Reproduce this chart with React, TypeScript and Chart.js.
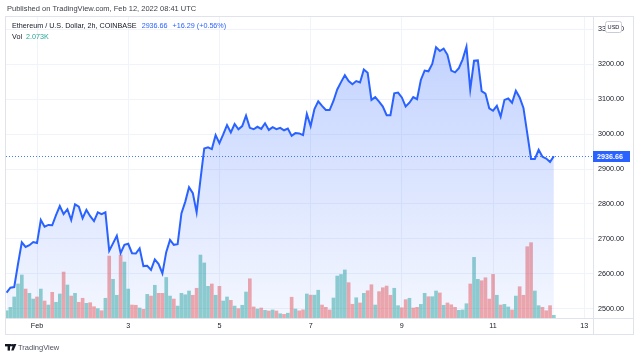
import React, { useEffect, useRef } from "react";
import { Chart, registerables } from "chart.js";

Chart.register(...registerables);

// ETH/USD 2h closes, Jan 31 08:00 UTC -> Feb 12 08:00 UTC (index = 2h bar)
const prices = [
  2546, 2560, 2562, 2628, 2690, 2677, 2682, 2691, 2688, 2754,
  2735, 2740, 2739, 2768, 2794, 2771, 2785, 2754, 2799, 2792,
  2759, 2783, 2765, 2751, 2776, 2771, 2776, 2666, 2687, 2709,
  2659, 2683, 2686, 2659, 2658, 2673, 2622, 2623, 2611, 2641,
  2628, 2601, 2662, 2697, 2683, 2685, 2773, 2806, 2848, 2831,
  2776, 2869, 2959, 2962, 2957, 2997, 2974, 2999, 3026, 3005,
  3029, 3014, 3023, 3053, 3018, 3014, 3021, 3015, 3031, 3012,
  3020, 3014, 3018, 3011, 3016, 2995, 3003, 3002, 2997, 3058,
  3023, 3072, 3094, 3081, 3069, 3069, 3095, 3128, 3149, 3169,
  3152, 3143, 3152, 3148, 3185, 3176, 3098, 3106, 3093, 3079,
  3054, 3054, 3117, 3119, 3105, 3079, 3090, 3106, 3100, 3155,
  3182, 3180, 3201, 3249, 3238, 3245, 3227, 3182, 3177, 3189,
  3214, 3250, 3128, 3210, 3211, 3123, 3116, 3074, 3067, 3081,
  3050, 3098, 3102, 3090, 3124, 3105, 3075, 3002, 2929, 2929,
  2955, 2935, 2930, 2920.37, 2936.66,
];

// volume in thousands of ETH
const volumes = [
  5.6, 8.2, 16.2, 26.2, 33.1, 22.3, 19.0, 14.6, 16.2, 22.3,
  13.1, 10.0, 19.8, 12.1, 18.5, 35.4, 25.4, 16.9, 19.0, 12.1,
  15.2, 11.3, 11.8, 8.7, 7.2, 5.6, 15.2, 47.7, 29.8, 17.5,
  48.5, 43.1, 22.3, 10.0, 9.8, 7.7, 6.7, 18.2, 16.9, 25.2,
  19.0, 19.0, 31.2, 16.9, 14.6, 9.2, 19.0, 17.9, 20.8, 17.5,
  22.9, 48.5, 42.4, 24.4, 26.2, 17.5, 24.4, 13.1, 16.2, 13.6,
  9.2, 7.2, 9.8, 20.0, 30.2, 8.5, 6.9, 7.7, 5.9, 5.4,
  6.2, 5.4, 3.3, 2.8, 3.7, 16.0, 6.9, 5.5, 6.3, 18.5,
  17.6, 17.6, 21.4, 10.0, 8.2, 6.2, 15.4, 32.3, 33.5, 37.0,
  27.2, 10.6, 15.6, 11.6, 19.0, 21.0, 25.6, 10.0, 20.3, 23.3,
  24.6, 17.5, 22.9, 9.5, 7.9, 14.1, 15.2, 7.7, 8.2, 10.5,
  19.0, 16.4, 16.4, 20.8, 19.3, 9.8, 11.6, 10.2, 8.2, 5.9,
  6.2, 11.0, 26.2, 46.7, 29.8, 28.7, 31.0, 14.6, 33.6, 17.5,
  10.0, 10.5, 8.5, 6.2, 16.9, 24.1, 17.5, 54.9, 58.0, 20.8,
  9.5, 8.2, 5.6, 9.5, 2.073,
];

// 1 = up candle (green volume), 0 = down candle (red volume)
const volumeUp = [
  1, 1, 1, 1, 1, 0, 1, 1, 0, 1,
  0, 1, 0, 1, 1, 0, 1, 0, 1, 0,
  0, 1, 0, 0, 1, 0, 1, 0, 1, 1,
  0, 1, 1, 0, 0, 1, 0, 1, 0, 1,
  0, 0, 1, 1, 0, 1, 1, 1, 1, 0,
  0, 1, 1, 1, 0, 1, 0, 1, 1, 0,
  1, 0, 1, 1, 0, 0, 1, 0, 1, 0,
  1, 0, 1, 0, 1, 0, 1, 0, 0, 1,
  0, 1, 1, 0, 0, 0, 1, 1, 1, 1,
  0, 0, 1, 0, 1, 0, 0, 1, 0, 0,
  0, 0, 1, 1, 0, 0, 1, 0, 0, 1,
  1, 0, 1, 1, 0, 1, 0, 0, 0, 1,
  1, 1, 0, 1, 1, 0, 0, 0, 0, 1,
  0, 1, 1, 0, 1, 0, 0, 0, 0, 1,
  1, 0, 0, 0, 1,
];

const timeTickIndex = [8, 32, 56, 80, 104, 128, 152];
const timeTickLabels = ["Feb", "3", "5", "7", "9", "11", "13"];
const priceTicks = [2500, 2600, 2700, 2800, 2900, 3000, 3100, 3200, 3300];

const publishedText = "Published on TradingView.com, Feb 12, 2022 08:41 UTC";
const titleText = "Ethereum / U.S. Dollar, 2h, COINBASE";
const lastPrice = 2936.66;
const changeText = "+16.29 (+0.56%)";
const volText = "2.073K";

const FONT = "'Liberation Sans', Arial, sans-serif";
const FS = 7.2;

const decor = {
  id: "decor",
  beforeDraw(chart: any) {
    const c = chart.ctx;
    c.save();
    c.fillStyle = "#ffffff";
    c.fillRect(0, 0, chart.width, chart.height);
    c.restore();
  },
  afterDraw(chart: any) {
    const c = chart.ctx;
    const a = chart.chartArea;
    const ys = chart.scales.y;
    c.save();
    const line = (x1: number, y1: number, x2: number, y2: number) => {
      c.beginPath();
      c.moveTo(x1, y1);
      c.lineTo(x2, y2);
      c.stroke();
    };
    // last price dotted line
    const py = Math.round(ys.getPixelForValue(lastPrice)) + 0.5;
    c.strokeStyle = "rgba(41,98,255,0.85)";
    c.lineWidth = 1;
    c.setLineDash([1, 2]);
    line(a.left, py, a.right, py);
    c.setLineDash([]);

    // frame
    c.strokeStyle = "#e0e3eb";
    c.lineWidth = 1;
    const L = a.left - 0.5;
    const T = a.top - 0.5;
    const R = a.right + 40.5;
    const B = a.bottom + 16.5;
    c.strokeRect(L, T, R - L, B - T);
    line(a.right + 0.5, T, a.right + 0.5, B);
    line(L, a.bottom + 0.5, R, a.bottom + 0.5);

    // last price label on axis
    c.fillStyle = "#2962ff";
    c.fillRect(a.right, py - 5.5, 37, 11);
    c.fillStyle = "#ffffff";
    c.font = `bold ${FS}px ${FONT}`;
    c.textBaseline = "middle";
    c.textAlign = "left";
    c.fillText(lastPrice.toFixed(2), a.right + 4, py + 0.5);

    // USD badge
    c.fillStyle = "#ffffff";
    c.strokeStyle = "#c9ccd6";
    c.beginPath();
    (c as any).roundRect(a.right + 12.5, a.top + 4.5, 16, 11, 2);
    c.fill();
    c.stroke();
    c.fillStyle = "#131722";
    c.font = `5.6px ${FONT}`;
    c.textAlign = "center";
    c.fillText("USD", a.right + 20.5, a.top + 10.3);

    // header texts
    c.textAlign = "left";
    c.textBaseline = "middle";
    c.font = `${FS + 0.3}px ${FONT}`;
    c.fillStyle = "#3c3f48";
    c.fillText(publishedText, 7, 9);

    c.font = `${FS}px ${FONT}`;
    c.fillStyle = "#131722";
    c.fillText(titleText, 12, 26);
    let x = 12 + c.measureText(titleText).width + 5;
    c.fillStyle = "#2962ff";
    const pt = lastPrice.toFixed(2);
    c.fillText(pt, x, 26);
    x += c.measureText(pt).width + 5;
    c.fillText(changeText, x, 26);

    c.fillStyle = "#131722";
    c.fillText("Vol", 12, 37);
    c.fillStyle = "#26a69a";
    c.fillText(volText, 12 + c.measureText("Vol").width + 4, 37);

    // TradingView logo
    c.fillStyle = "#131722";
    c.fillRect(5, 344, 6, 2.4);
    c.fillRect(7.6, 344, 2.4, 6.6);
    c.beginPath();
    c.arc(12.2, 345.3, 1.3, 0, Math.PI * 2);
    c.fill();
    c.beginPath();
    c.moveTo(13.4, 344);
    c.lineTo(16.4, 344);
    c.lineTo(13.6, 350.6);
    c.lineTo(11.2, 350.6);
    c.closePath();
    c.fill();
    c.font = `${FS + 0.3}px ${FONT}`;
    c.fillStyle = "#50535e";
    c.fillText("TradingView", 18, 347.5);
    c.restore();
  },
};

export default function App() {
  const ref = useRef<HTMLCanvasElement | null>(null);

  useEffect(() => {
    if (!ref.current) return;
    const maxPrice = Math.max(...prices);
    const chart = new Chart(ref.current, {
      type: "bar",
      data: {
        datasets: [
          {
            type: "line",
            label: "ETHUSD",
            data: prices.map((p, i) => ({ x: i, y: p })),
            xAxisID: "x",
            yAxisID: "y",
            borderColor: "#2962ff",
            borderWidth: 2,
            pointRadius: 0,
            tension: 0,
            fill: "start",
            backgroundColor: (ctx: any) => {
              const ch = ctx.chart;
              const area = ch.chartArea;
              if (!area) return "rgba(41,98,255,0.15)";
              const top = ch.scales.y.getPixelForValue(maxPrice);
              const g = ch.ctx.createLinearGradient(0, top, 0, area.bottom);
              g.addColorStop(0, "rgba(41,98,255,0.28)");
              g.addColorStop(1, "rgba(41,98,255,0.05)");
              return g;
            },
            order: 1,
          } as any,
          {
            type: "bar",
            label: "Vol",
            data: volumes.map((v, i) => ({ x: i, y: v })),
            xAxisID: "x",
            yAxisID: "vol",
            backgroundColor: volumeUp.map((u) =>
              u ? "rgba(38,166,154,0.5)" : "rgba(239,83,80,0.5)"
            ),
            barThickness: 3,
            order: 2,
          } as any,
        ],
      },
      options: {
        animation: false,
        responsive: true,
        maintainAspectRatio: false,
        layout: { padding: { left: 6, top: 17, right: 7, bottom: 24 } },
        plugins: { legend: { display: false }, tooltip: { enabled: false } },
        scales: {
          x: {
            type: "linear",
            min: -0.16,
            max: 154.3,
            offset: false,
            position: "bottom",
            afterBuildTicks: (ax: any) => {
              ax.ticks = timeTickIndex.map((v) => ({ value: v }));
            },
            afterFit: (ax: any) => {
              ax.height = 16;
            },
            ticks: {
              autoSkip: false,
              maxRotation: 0,
              color: "#131722",
              font: { family: FONT, size: FS },
              padding: 4,
              callback: (v: any) => {
                const k = timeTickIndex.indexOf(Number(v));
                return k >= 0 ? timeTickLabels[k] : "";
              },
            },
            grid: { color: "#f0f3fa", drawTicks: false, offset: false },
            border: { display: false },
          },
          y: {
            type: "linear",
            position: "right",
            min: 2473.4,
            max: 3335.4,
            afterBuildTicks: (ax: any) => {
              ax.ticks = priceTicks.map((v) => ({ value: v }));
            },
            afterFit: (ax: any) => {
              ax.width = 40;
            },
            ticks: {
              color: "#131722",
              font: { family: FONT, size: FS },
              padding: 5,
              callback: (v: any) => Number(v).toFixed(2),
            },
            grid: { color: "#f0f3fa", drawTicks: false },
            border: { display: false },
          },
          vol: {
            type: "linear",
            position: "left",
            display: false,
            min: 0,
            max: 231.8,
          },
        },
      } as any,
      plugins: [decor],
    });
    return () => chart.destroy();
  }, []);

  return (
    <div
      style={{
        position: "fixed",
        left: 0,
        top: 0,
        width: 640,
        height: 358,
        background: "#ffffff",
      }}
    >
      <canvas ref={ref} />
    </div>
  );
}
